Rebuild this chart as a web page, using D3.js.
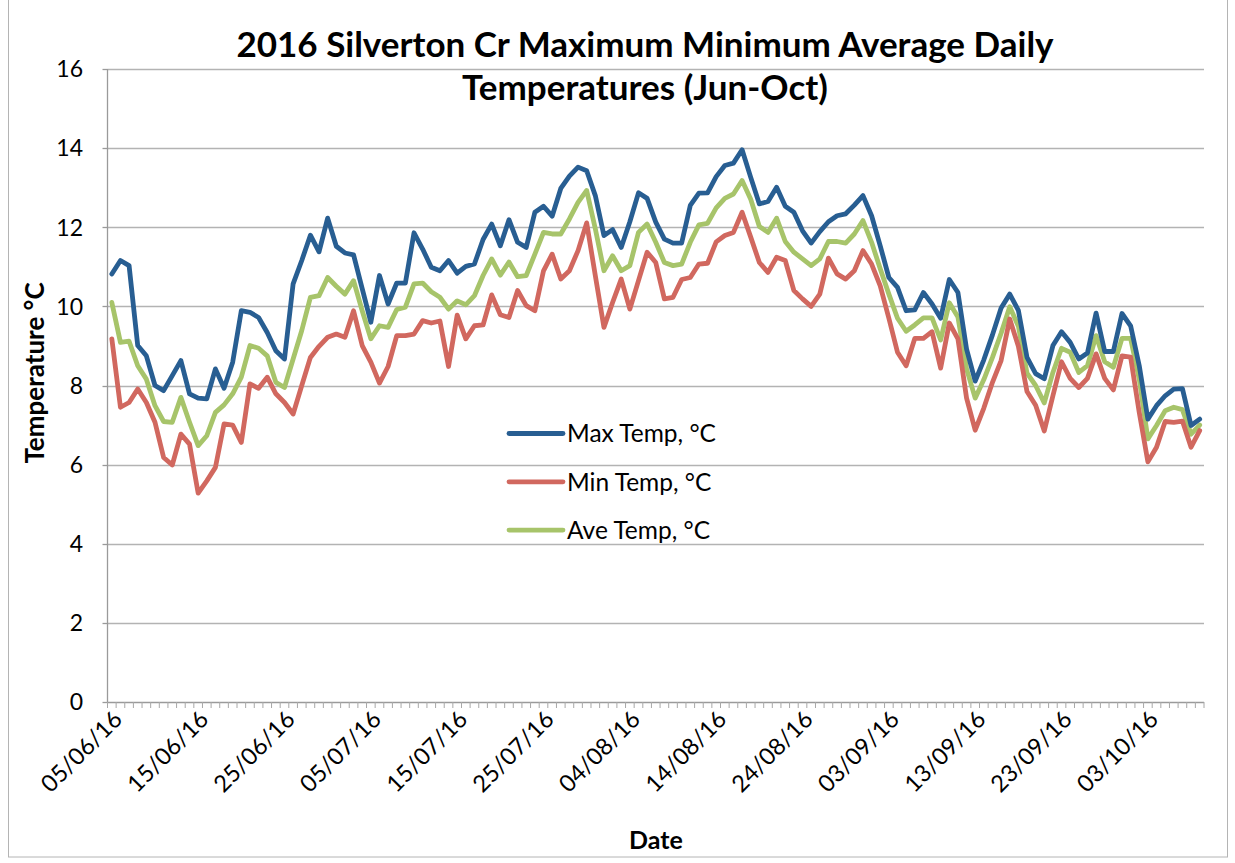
<!DOCTYPE html>
<html>
<head>
<meta charset="utf-8">
<script src="https://cdn.jsdelivr.net/npm/d3@7"></script>
<style>
  html, body { margin: 0; padding: 0; background: #fff; }
  svg { display: block; font-family: Lato, "Open Sans", sans-serif; }
</style>
</head>
<body>
<div id="chart"></div>
<script>
// daily categories, 05/06/16 .. 09/10/16
const dates = d3.timeDay.range(new Date(2016, 5, 5), new Date(2016, 9, 10));

const maxTemp = [
  10.82, 11.16, 11.03, 9.01, 8.75, 8.00, 7.87, 8.25, 8.63, 7.79,
  7.68, 7.66, 8.42, 7.93, 8.59, 9.89, 9.85, 9.72, 9.34, 8.88,
  8.67, 10.57, 11.16, 11.80, 11.38, 12.23, 11.52, 11.35, 11.30, 10.45,
  9.60, 10.78, 10.06, 10.59, 10.59, 11.86, 11.45, 10.99, 10.90, 11.16,
  10.84, 11.01, 11.07, 11.69, 12.08, 11.53, 12.19, 11.62, 11.49, 12.38,
  12.53, 12.28, 12.98, 13.29, 13.52, 13.43, 12.80, 11.79, 11.94, 11.49,
  12.14, 12.87, 12.73, 12.13, 11.70, 11.60, 11.60, 12.55, 12.86, 12.87,
  13.28, 13.56, 13.62, 13.96, 13.26, 12.59, 12.65, 13.01, 12.53, 12.38,
  11.91, 11.60, 11.89, 12.14, 12.29, 12.34, 12.56, 12.80, 12.29, 11.53,
  10.73, 10.48, 9.89, 9.91, 10.35, 10.06, 9.70, 10.68, 10.35, 8.92,
  8.11, 8.65, 9.28, 9.96, 10.31, 9.90, 8.71, 8.30, 8.17, 9.01,
  9.36, 9.09, 8.67, 8.82, 9.83, 8.86, 8.86, 9.82, 9.51, 8.50,
  7.15, 7.49, 7.74, 7.91, 7.92, 6.99, 7.15
];

const minTemp = [
  9.18, 7.45, 7.57, 7.91, 7.57, 7.07, 6.18, 5.99, 6.77, 6.52,
  5.28, 5.59, 5.93, 7.03, 7.00, 6.56, 8.04, 7.93, 8.21, 7.79,
  7.57, 7.28, 8.00, 8.71, 8.99, 9.22, 9.30, 9.22, 9.89, 9.01,
  8.59, 8.06, 8.48, 9.26, 9.26, 9.30, 9.64, 9.58, 9.63, 8.48,
  9.78, 9.18, 9.51, 9.53, 10.29, 9.79, 9.72, 10.40, 10.02, 9.89,
  10.90, 11.32, 10.69, 10.90, 11.41, 12.11, 10.78, 9.47, 10.10, 10.69,
  9.93, 10.65, 11.37, 11.11, 10.19, 10.23, 10.68, 10.73, 11.07, 11.09,
  11.63, 11.79, 11.87, 12.38, 11.75, 11.11, 10.86, 11.24, 11.16, 10.40,
  10.19, 10.00, 10.31, 11.22, 10.82, 10.69, 10.90, 11.41, 11.07, 10.52,
  9.70, 8.84, 8.50, 9.19, 9.19, 9.36, 8.44, 9.58, 9.18, 7.68,
  6.87, 7.43, 8.08, 8.63, 9.68, 8.99, 7.85, 7.50, 6.85, 7.74,
  8.60, 8.18, 7.95, 8.18, 8.80, 8.18, 7.89, 8.75, 8.72, 7.32,
  6.07, 6.44, 7.09, 7.07, 7.10, 6.44, 6.86
];

const aveTemp = [
  10.10, 9.09, 9.12, 8.50, 8.16, 7.49, 7.09, 7.07, 7.70, 7.07,
  6.48, 6.73, 7.32, 7.51, 7.79, 8.21, 9.01, 8.94, 8.75, 8.08,
  7.95, 8.67, 9.39, 10.23, 10.27, 10.73, 10.51, 10.31, 10.65, 9.89,
  9.18, 9.51, 9.47, 9.92, 9.98, 10.57, 10.59, 10.37, 10.23, 9.93,
  10.14, 10.04, 10.27, 10.78, 11.20, 10.79, 11.12, 10.75, 10.78, 11.32,
  11.87, 11.83, 11.83, 12.21, 12.63, 12.93, 11.96, 10.90, 11.28, 10.90,
  11.03, 11.87, 12.08, 11.62, 11.11, 11.03, 11.07, 11.62, 12.06, 12.10,
  12.49, 12.73, 12.84, 13.18, 12.71, 12.02, 11.87, 12.23, 11.64, 11.37,
  11.20, 11.03, 11.20, 11.64, 11.64, 11.60, 11.83, 12.17, 11.62, 10.95,
  10.31, 9.70, 9.37, 9.53, 9.71, 9.71, 9.15, 10.09, 9.73, 8.42,
  7.68, 8.15, 8.71, 9.32, 9.99, 9.50, 8.31, 8.00, 7.56, 8.33,
  8.94, 8.84, 8.33, 8.50, 9.26, 8.60, 8.46, 9.19, 9.19, 8.16,
  6.65, 6.99, 7.36, 7.45, 7.39, 6.77, 7.00
];

const yTicks = [0, 2, 4, 6, 8, 10, 12, 14, 16];
const labelEvery = 10;

const seriesList = [
  { name: 'Max Temp, °C', values: maxTemp, color: '#285e92' },
  { name: 'Min Temp, °C', values: minTemp, color: '#d1685f' },
  { name: 'Ave Temp, °C', values: aveTemp, color: '#a7c46a' }
];

const width = 1235, height = 863;
const plot = { left: 107.5, right: 1204, top: 69, bottom: 702 };

const svg = d3.select('#chart').append('svg')
  .attr('width', width)
  .attr('height', height);

svg.append('rect')
  .attr('x', 0).attr('y', 0)
  .attr('width', width).attr('height', height)
  .attr('fill', '#fff');

// outer chart border
svg.append('rect')
  .attr('x', 8.5).attr('y', -1)
  .attr('width', 1219).attr('height', 858)
  .attr('fill', 'none')
  .attr('stroke', '#b4b4b4')
  .attr('stroke-width', 1);

// category scale: points in the middle of each day band
const x = d3.scalePoint()
  .domain(d3.range(dates.length))
  .range([plot.left, plot.right])
  .padding(0.5);
const step = x.step();

const y = d3.scaleLinear()
  .domain([0, 16])
  .range([plot.bottom, plot.top]);

// horizontal gridlines
svg.append('g')
  .selectAll('line')
  .data(yTicks.filter(d => d > 0))
  .join('line')
  .attr('x1', plot.left).attr('x2', plot.right)
  .attr('y1', d => Math.round(y(d)) + 0.5)
  .attr('y2', d => Math.round(y(d)) + 0.5)
  .attr('stroke', '#b3b3b3')
  .attr('stroke-width', 1.3);

// y axis line
svg.append('line')
  .attr('x1', plot.left).attr('x2', plot.left)
  .attr('y1', plot.top).attr('y2', plot.bottom)
  .attr('stroke', '#9a9a9a')
  .attr('stroke-width', 1.3);

// y axis labels
svg.append('g')
  .selectAll('text')
  .data(yTicks)
  .join('text')
  .attr('x', 83)
  .attr('y', d => y(d))
  .attr('dy', '0.36em')
  .attr('text-anchor', 'end')
  .attr('font-size', 23)
  .attr('fill', '#000')
  .text(d => d);

// y axis tick marks to the left
svg.append('g')
  .selectAll('line')
  .data(yTicks)
  .join('line')
  .attr('x1', plot.left - 5).attr('x2', plot.left)
  .attr('y1', d => Math.round(y(d)) + 0.5)
  .attr('y2', d => Math.round(y(d)) + 0.5)
  .attr('stroke', '#9a9a9a')
  .attr('stroke-width', 1.3);

// x axis line and tick marks between categories
svg.append('line')
  .attr('x1', plot.left).attr('x2', plot.right)
  .attr('y1', plot.bottom + 0.5).attr('y2', plot.bottom + 0.5)
  .attr('stroke', '#9a9a9a')
  .attr('stroke-width', 1.3);

svg.append('g')
  .selectAll('line')
  .data(d3.range(dates.length + 1))
  .join('line')
  .attr('x1', k => plot.left + k * step)
  .attr('x2', k => plot.left + k * step)
  .attr('y1', plot.bottom).attr('y2', plot.bottom + 6)
  .attr('stroke', '#a8a8a8')
  .attr('stroke-width', 1);

// x tick labels, rotated
const fmt = d3.timeFormat('%d/%m/%y');
svg.append('g')
  .selectAll('text')
  .data(d3.range(0, dates.length, labelEvery))
  .join('text')
  .attr('transform', i => `translate(${x(i) + 6},${plot.bottom + 13}) rotate(-45)`)
  .attr('text-anchor', 'end')
  .attr('dy', '0.35em')
  .attr('font-size', 23.5)
  .attr('fill', '#000')
  .text(i => fmt(dates[i]));

// series lines
const line = d3.line()
  .x((d, i) => x(i))
  .y(d => y(d));

svg.append('g')
  .selectAll('path')
  .data(seriesList.slice().reverse())
  .join('path')
  .attr('d', s => line(s.values))
  .attr('fill', 'none')
  .attr('stroke', s => s.color)
  .attr('stroke-width', 4.8)
  .attr('stroke-linejoin', 'round')
  .attr('stroke-linecap', 'round');

// legend
const legend = svg.append('g')
  .selectAll('g')
  .data(seriesList)
  .join('g')
  .attr('transform', (s, i) => `translate(509,${433.5 + i * 48.3})`);
legend.append('line')
  .attr('x1', 0).attr('x2', 54)
  .attr('stroke', s => s.color)
  .attr('stroke-width', 4.8)
  .attr('stroke-linecap', 'round');
legend.append('text')
  .attr('x', 58)
  .attr('dy', '0.36em')
  .attr('font-size', 24.5)
  .attr('fill', '#000')
  .text(s => s.name);

// titles
const title = svg.append('text')
  .attr('text-anchor', 'middle')
  .attr('font-size', 35)
  .attr('font-weight', 'bold')
  .attr('fill', '#000');
title.append('tspan').attr('x', 645).attr('y', 57)
  .text('2016 Silverton Cr Maximum Minimum Average Daily');
title.append('tspan').attr('x', 645).attr('y', 100)
  .text('Temperatures (Jun-Oct)');

svg.append('text')
  .attr('transform', 'translate(44,373) rotate(-90)')
  .attr('text-anchor', 'middle')
  .attr('font-size', 26)
  .attr('font-weight', 'bold')
  .attr('fill', '#000')
  .text('Temperature °C');

svg.append('text')
  .attr('x', 656)
  .attr('y', 849)
  .attr('text-anchor', 'middle')
  .attr('font-size', 25)
  .attr('font-weight', 'bold')
  .attr('fill', '#000')
  .text('Date');
</script>
</body>
</html>
